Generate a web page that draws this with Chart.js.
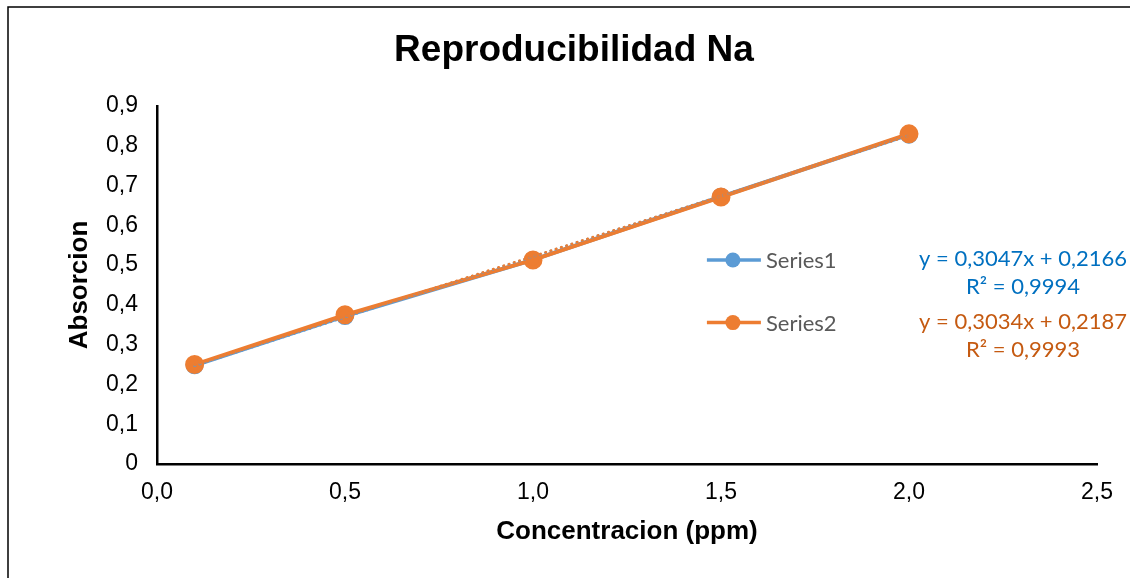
<!DOCTYPE html>
<html>
<head>
<meta charset="utf-8">
<script src="https://cdn.jsdelivr.net/npm/chart.js@4"></script>
<style>
    body { margin: 0; background: #fff; }
    #wrap { width: 1130px; height: 578px; }
</style>
</head>
<body>
<div id="wrap"><canvas id="grafik" width="1130" height="578"></canvas></div>
<script>
// datos
const concentracion = [0.1, 0.5, 1.0, 1.5, 2.0];
const serie1 = [0.248, 0.372, 0.513, 0.672, 0.828];
const serie2 = [0.250, 0.375, 0.513, 0.671, 0.830];
const nombres = ['Series1', 'Series2'];
const pendientes = [0.3047, 0.3034];
const interceptos = [0.2166, 0.2187];
const ecuaciones = [['y = 0,3047x + 0,2166', 'R² = 0,9994'], ['y = 0,3034x + 0,2187', 'R² = 0,9993']];
const titulo = 'Reproducibilidad Na';

const azul = '#5B9BD5';
const naranja = '#ED7D31';
const coma = v => v.toFixed(1).replace('.', ',');

function puntos(ys) {
    return concentracion.map((x, i) => ({ x: x, y: ys[i] }));
}
function tendencia(k) {
    const x0 = concentracion[0], x1 = concentracion[concentracion.length - 1];
    return [{ x: x0, y: pendientes[k] * x0 + interceptos[k] }, { x: x1, y: pendientes[k] * x1 + interceptos[k] }];
}

// marco, titulo, leyenda y ecuaciones dibujados a mano
const extras = {
    id: 'extras',
    afterDraw(chart) {
        const c = chart.ctx;
        const a = chart.chartArea;
        c.save();
        c.strokeStyle = '#000';
        c.lineWidth = 1.5;
        c.beginPath();
        c.moveTo(8, 578); c.lineTo(8, 7); c.lineTo(1130, 7);
        c.stroke();

        c.fillStyle = '#000';
        c.font = 'bold 37px "Liberation Sans"';
        c.textAlign = 'center';
        c.textBaseline = 'middle';
        c.fillText(titulo, 574, 51);

        const colores = [azul, naranja];
        const colTexto = ['#0070C0', '#C55A11'];
        const lx = a.left + (a.right - a.left) * 0.585;
        const ly = [a.top + (a.bottom - a.top) * 0.43, a.top + (a.bottom - a.top) * 0.605];
        c.font = '22px Lato';
        nombres.forEach((n, k) => {
            c.strokeStyle = colores[k];
            c.lineWidth = 3.5;
            c.beginPath();
            c.moveTo(lx, ly[k]); c.lineTo(lx + 54, ly[k]);
            c.stroke();
            c.fillStyle = colores[k];
            c.beginPath();
            c.arc(lx + 26, ly[k], 7.5, 0, Math.PI * 2);
            c.fill();
            c.fillStyle = '#595959';
            c.textAlign = 'left';
            c.fillText(n, lx + 59, ly[k] + 1);

            c.fillStyle = colTexto[k];
            c.textAlign = 'center';
            c.fillText(ecuaciones[k][0], 1023, ly[k] - 1);
            c.fillText(ecuaciones[k][1], 1023, ly[k] + 27);
        });
        c.restore();
    }
};

const ctx = document.getElementById('grafik').getContext('2d');
const grafico = new Chart(ctx, {
    type: 'scatter',
    data: {
        datasets: [
            { label: nombres[0], data: puntos(serie1), showLine: true, borderColor: azul, backgroundColor: azul, borderWidth: 4, pointRadius: 7, pointHoverRadius: 7, order: 4 },
            { label: nombres[1], data: puntos(serie2), showLine: true, borderColor: naranja, backgroundColor: naranja, borderWidth: 4, pointRadius: 7.5, pointHoverRadius: 7.5, order: 3 },
            { label: 'tend1', data: tendencia(0), showLine: true, borderColor: azul, borderWidth: 2.5, borderDash: [0.5, 5], borderCapStyle: 'round', pointRadius: 0, order: 2 },
            { label: 'tend2', data: tendencia(1), showLine: true, borderColor: naranja, borderWidth: 2.5, borderDash: [0.5, 5], borderCapStyle: 'round', pointRadius: 0, order: 1 }
        ]
    },
    options: {
        responsive: false,
        animation: false,
        layout: { padding: { left: 0, right: 33, top: 106, bottom: 0 } },
        plugins: {
            legend: { display: false },
            tooltip: { enabled: false },
            title: { display: false }
        },
        scales: {
            x: {
                type: 'linear', min: 0, max: 2.5,
                afterFit: s => { s.height = 114; },
                ticks: { stepSize: 0.5, padding: 15, color: '#000', font: { family: 'Liberation Sans', size: 23 }, callback: v => coma(v) },
                grid: { display: false, drawTicks: false },
                border: { display: true, color: '#000', width: 2.5 },
                title: { display: true, text: 'Concentracion (ppm)', color: '#000', font: { family: 'Liberation Sans', size: 26, weight: 'bold' }, padding: { top: 4, bottom: 31 } }
            },
            y: {
                min: 0, max: 0.9,
                afterFit: s => { s.width = 157; },
                ticks: { stepSize: 0.1, padding: 19, color: '#000', font: { family: 'Liberation Sans', size: 23 }, callback: v => Math.abs(v) < 1e-9 ? '0' : coma(v) },
                grid: { display: false, drawTicks: false },
                border: { display: true, color: '#000', width: 2.5 },
                title: { display: true, text: 'Absorcion', color: '#000', font: { family: 'Liberation Sans', size: 26, weight: 'bold' }, padding: { top: 64, bottom: 4 } }
            }
        }
    },
    plugins: [extras]
});
</script>
</body>
</html>
